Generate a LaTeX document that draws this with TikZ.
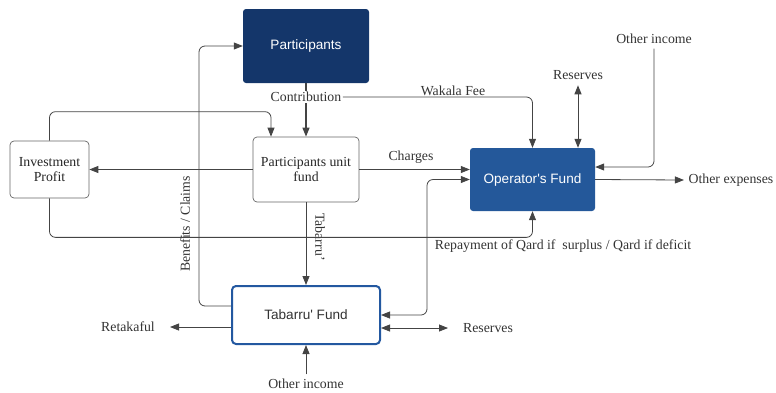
\documentclass[tikz,border=0pt]{standalone}
\usepackage{fontspec}
\setmainfont{Liberation Serif}
\newfontfamily\sansf{Liberation Sans}
\usetikzlibrary{arrows.meta}
\definecolor{navy}{HTML}{14366A}
\definecolor{opblue}{HTML}{24589A}
\definecolor{tabblue}{HTML}{2358A0}
\definecolor{lncol}{HTML}{444444}
\begin{document}
\begin{tikzpicture}[x=1pt,y=-1pt,
  conn/.style={draw=lncol, line width=0.8pt, rounded corners=6pt},
  arr/.style={-{Triangle[length=9pt,width=7pt]}},
  darr/.style={{Triangle[length=9pt,width=7pt]}-{Triangle[length=9pt,width=7pt]}},
  lbl/.style={font=\fontsize{13.8}{15}\selectfont, text=black!80, inner sep=1.5pt},
  darkbox/.style={font=\sansf\fontsize{13.6}{15}\selectfont, text=white, rounded corners=3pt},
  whitebox/.style={draw=black!60, line width=0.7pt, fill=white, rounded corners=4pt, align=center, font=\fontsize{13.8}{15.5}\selectfont, text=black!85}]
\useasboundingbox (0,0) rectangle (776,392);

% boxes
\node[darkbox, fill=navy, minimum width=126pt, minimum height=74pt] (part) at (306,46) {Participants};
\node[whitebox, minimum width=106pt, minimum height=65pt] (puf) at (306,169.5) {Participants unit\\fund};
\node[whitebox, minimum width=79pt, minimum height=57pt] (inv) at (49.5,169.5) {Investment\\Profit};
\node[darkbox, fill=opblue, minimum width=125pt, minimum height=63pt] (op) at (532.5,179.5) {Operator's Fund};
\node[draw=tabblue, line width=2pt, fill=white, rounded corners=4pt, minimum width=148pt, minimum height=58pt, font=\sansf\fontsize{13.6}{15}\selectfont, text=black!80] (tab) at (306,315) {Tabarru' Fund};

% labels
\node[lbl] (wak) at (453,91) {Wakala Fee};
\node[lbl] (resT) at (578,75) {Reserves};
\node[lbl] (oiT) at (654,39) {Other income};
\node[lbl] (oe) at (731,180) {Other expenses};
\node[lbl] (chg) at (411,157) {Charges};
\node[lbl] (rep) at (563,246) {Repayment of Qard if\ \ surplus / Qard if deficit};
\node[lbl] (retak) at (128,327) {Retakaful};
\node[lbl] (resB) at (488,328) {Reserves};
\node[lbl] (oiB) at (306,384) {Other income};
\node[lbl, rotate=-90] (tlab) at (320,237) {Tabarru'};
\node[lbl, rotate=90] (ben) at (185,224) {Benefits / Claims};

% connectors
\draw[conn, arr, line width=1.3pt] (part.south) -- (puf.north);
\node[lbl, fill=white] (contrib) at (306,97) {Contribution};
\draw[conn, arr] (contrib.east) -| (op.north);
\draw[conn, darr, line width=1pt] ([yshift=-4pt]resT.south) -- (op.north -| resT.south);
\draw[conn, arr] ([yshift=-3pt]oiT.south) |- ([yshift=12.5pt]op.east);
\draw[conn, arr] (op.east) -- ([xshift=-3pt]oe.west);
\draw[conn, arr] (puf.east) -- (puf.east -| op.west);
\draw[conn, arr] (puf.west) -- (inv.east);
\draw[conn, arr] (inv.north) -- ++(0,-29) -| ([xshift=-35pt]puf.north);
\draw[conn, arr] (inv.south) -- ++(0,39) -| (op.south);
\draw[conn, arr] (puf.south) -- (tab.north);
\draw[conn, arr] ([yshift=9pt]tab.west) -- ++(-32,0) |- (part.west);
\draw[conn, darr] (tab.east) -- ++(46,0) |- (op.west);
\draw[conn, darr] ([yshift=-13pt]tab.east) -- ++(67,0);
\draw[conn, arr] ([yshift=-12pt]tab.west) -- ++(-61,0);
\draw[conn, arr] ([yshift=3pt]oiB.north) -- (tab.south);
\end{tikzpicture}
\end{document}
